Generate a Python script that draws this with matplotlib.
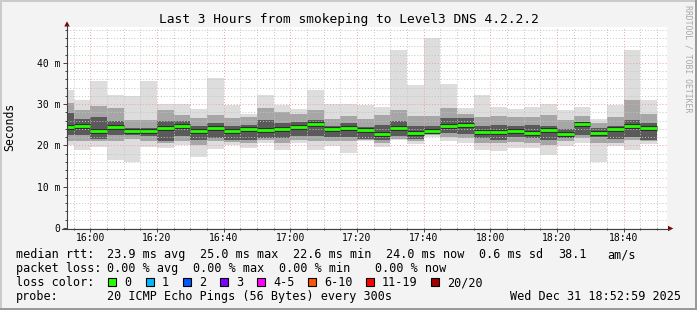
import numpy as np
import pandas as pd
import matplotlib
matplotlib.use('Agg')
import matplotlib.pyplot as plt
import matplotlib.dates as mdates
from matplotlib.patches import Rectangle, Polygon

W, H = 697, 310
MONO = 'DejaVu Sans Mono'

# 5 minute rounds, 20 pings each (values in ms)
bar_start = pd.date_range('2025-12-31 15:50', periods=36, freq='5min')
rtt_min = [20.2, 18.8, 19.6, 16.5, 16.0, 19.6, 19.4, 20.2, 17.1, 19.1,
           20.2, 19.4, 20.6, 19.0, 20.7, 19.0, 19.9, 18.1, 21.0, 19.6,
           21.2, 20.3, 22.0, 21.0, 20.7, 19.0, 18.7, 19.4, 19.4, 17.6,
           19.9, 20.7, 15.9, 19.9, 19.0, 20.4]
rtt_p10 = [21.0, 21.0, 21.0, 21.0, 21.5, 21.0, 20.5, 21.0, 20.2, 21.0,
           20.8, 20.6, 21.2, 20.6, 21.4, 21.0, 21.0, 21.0, 21.4, 20.6,
           21.6, 21.0, 22.4, 22.0, 21.8, 20.6, 20.6, 20.8, 20.6, 20.2,
           21.0, 21.8, 20.6, 20.6, 21.2, 21.0]
rtt_p25 = [22.6, 22.6, 21.6, 22.6, 22.6, 22.2, 21.0, 22.2, 21.4, 21.8,
           21.4, 21.4, 21.8, 21.8, 22.2, 22.2, 22.0, 22.0, 21.6, 21.4,
           22.2, 21.6, 22.8, 23.0, 22.8, 21.8, 21.4, 22.0, 21.8, 21.4,
           21.8, 22.6, 22.0, 21.6, 22.0, 21.4]
rtt_med = [24.4, 24.6, 23.4, 24.4, 23.4, 23.4, 24.1, 24.8, 23.6, 24.3,
           23.6, 24.0, 23.7, 24.0, 24.4, 25.1, 24.0, 24.3, 23.7, 22.7,
           24.3, 23.1, 23.6, 24.8, 25.0, 23.3, 23.3, 23.6, 23.1, 23.7,
           22.7, 25.1, 23.1, 24.0, 24.6, 24.1]
rtt_p75 = [27.8, 26.4, 27.0, 25.8, 24.2, 24.2, 25.8, 25.8, 24.8, 25.4,
           24.8, 25.0, 26.2, 25.4, 25.6, 26.2, 24.8, 25.4, 24.4, 25.0,
           25.8, 24.6, 24.6, 26.6, 26.6, 24.6, 25.0, 24.6, 25.0, 24.6,
           24.0, 25.6, 24.2, 24.6, 26.2, 25.4]
rtt_p90 = [30.3, 28.6, 29.5, 29.0, 26.2, 26.2, 28.6, 27.4, 26.6, 27.4,
           26.6, 27.0, 29.0, 28.0, 27.6, 28.5, 26.4, 27.2, 26.4, 27.4,
           28.6, 27.2, 27.0, 29.0, 27.6, 27.0, 27.2, 26.8, 26.8, 27.4,
           26.2, 27.0, 25.4, 27.0, 31.0, 27.6]
rtt_max = [33.5, 31.1, 35.7, 32.3, 31.9, 35.7, 30.1, 30.1, 28.8, 36.3,
           29.9, 27.7, 32.3, 29.9, 28.8, 33.5, 30.0, 30.0, 29.7, 29.4,
           43.2, 34.7, 46.0, 34.9, 29.1, 32.3, 29.3, 28.8, 29.3, 30.1,
           28.5, 29.3, 26.4, 29.9, 43.2, 31.1]

loss_labels = ['0', '1', '2', '3', '4-5', '6-10', '11-19', '20/20']
loss_colors = ['#26ff00', '#00b8ff', '#0059ff', '#7e00ff', '#ff00ff', '#ff5500', '#ff0000', '#a10000']
loss_box_x = [108, 146, 183, 220, 257, 308, 366, 431]

title = 'Last 3 Hours from smokeping to Level3 DNS 4.2.2.2'
rtt_line = [('median rtt:', 16), ('23.9 ms avg', 107), ('25.0 ms max', 200), ('22.6 ms min', 293),
            ('24.0 ms now', 386), ('0.6 ms sd', 479), ('38.1', 558), ('am/s', 607)]
loss_line = [('packet loss:', 16), ('0.00 % avg', 107), ('0.00 % max', 193),
             ('0.00 % min', 279), ('0.00 % now', 375)]
probe_text = '20 ICMP Echo Pings (56 Bytes) every 300s'
stamp = 'Wed Dec 31 18:52:59 2025'

fig = plt.figure(figsize=(W/100, H/100), dpi=100)
fig.patch.set_facecolor('#f3f3f3')

# plot canvas in pixel box: x 67..667, y 27..228
ax = fig.add_axes([67/W, (H-228)/H, 600/W, (228-27.3)/H])
ax.set_facecolor('white')

width = pd.Timedelta(minutes=5)
w_days = 5/1440
lo = np.array(rtt_min); hi = np.array(rtt_max)
ax.bar(bar_start, hi-lo, bottom=lo, width=w_days, align='edge', color='#dddddd', linewidth=0, zorder=1)
ax.bar(bar_start, np.array(rtt_p90)-np.array(rtt_p10), bottom=rtt_p10, width=w_days, align='edge',
       color='#a6a6a6', linewidth=0, zorder=1.1)
ax.bar(bar_start, np.array(rtt_p75)-np.array(rtt_p25), bottom=rtt_p25, width=w_days, align='edge',
       color='#5a5a5a', linewidth=0, zorder=1.2)
# dark edge under the median, then the loss coloured median itself
ax.hlines(rtt_med, bar_start, bar_start+width, colors='#303030', linewidth=3.6, zorder=2.9)
ax.hlines(rtt_med, bar_start, bar_start+width, colors=loss_colors[0], linewidth=2.0, zorder=3)

t0 = pd.Timestamp('2025-12-31 15:53')
ax.set_xlim(t0, t0+pd.Timedelta(hours=3))
ax.set_ylim(0, 48.6)

ax.set_yticks([0, 10, 20, 30, 40])
ax.set_yticklabels(['0', '10 m', '20 m', '30 m', '40 m'])
ax.set_yticks(np.arange(2, 49, 2), minor=True)
ax.xaxis.set_major_locator(mdates.MinuteLocator(byminute=[0, 20, 40]))
ax.xaxis.set_minor_locator(mdates.MinuteLocator(byminute=range(0, 60, 5)))
ax.xaxis.set_major_formatter(mdates.DateFormatter('%H:%M'))

ax.set_axisbelow(False)
ax.grid(which='minor', color='#c4c4c4', linestyle=(0, (1, 2)), linewidth=0.7)
ax.grid(which='major', color='#f0a0a0', linestyle=(0, (1, 2)), linewidth=0.7)
for s in ax.spines.values():
    s.set_visible(False)
ax.tick_params(which='major', direction='out', length=2.8, width=0.7, color='#404040',
               labelsize=7, pad=2)
ax.tick_params(axis='x', which='major', pad=1)
ax.tick_params(which='minor', direction='out', length=1.4, width=0.7, color='#404040')
for lab in ax.get_xticklabels() + ax.get_yticklabels():
    lab.set_family(MONO)

# overlay in pixel coordinates for frame, axes, arrows and legend
ov = fig.add_axes([0, 0, 1, 1], zorder=5)
ov.set_xlim(0, W); ov.set_ylim(H, 0)
ov.axis('off')
ov.patch.set_alpha(0)

ov.add_patch(Rectangle((0, 0), W, 2, color='#cbcbcb', lw=0))
ov.add_patch(Rectangle((0, 0), 2, H, color='#cbcbcb', lw=0))
ov.add_patch(Rectangle((W-2, 0), 2, H, color='#999999', lw=0))
ov.add_patch(Rectangle((0, H-2), W, 2, color='#999999', lw=0))

ov.plot([67, 67], [228.5, 25], color='#404040', lw=0.8)
ov.plot([62, 669], [228.5, 228.5], color='#404040', lw=0.8)
ov.add_patch(Polygon([(64.3, 26.5), (69.7, 26.5), (67, 21.3)], color='#7f0000', lw=0))
ov.add_patch(Polygon([(668, 225.8), (668, 231.2), (673.3, 228.5)], color='#7f0000', lw=0))

ov.text(W/2, 19, title, family=MONO, fontsize=9.3, ha='center', va='center')
ov.text(10, 127, 'Seconds', family=MONO, fontsize=8.3, rotation=90, ha='center', va='center')
ov.text(688, 5, 'RRDTOOL / TOBI OETIKER', family=MONO, fontsize=5.9, rotation=270,
        ha='center', va='top', color='#a8a8a8')

fs = 8.5
for txt, x in rtt_line:
    ov.text(x, 254.5, txt, family=MONO, fontsize=fs, va='center')
for txt, x in loss_line:
    ov.text(x, 268.5, txt, family=MONO, fontsize=fs, va='center')
ov.text(16, 282.5, 'loss color:', family=MONO, fontsize=fs, va='center')
for lab, col, x in zip(loss_labels, loss_colors, loss_box_x):
    ov.add_patch(Rectangle((x, 278.3), 7.5, 7.5, facecolor=col, edgecolor='black', lw=0.8))
    ov.text(x+16, 282.5, lab, family=MONO, fontsize=fs, va='center')
ov.text(16, 296.5, 'probe:', family=MONO, fontsize=fs, va='center')
ov.text(107, 296.5, probe_text, family=MONO, fontsize=fs, va='center')
ov.text(681, 296.5, stamp, family=MONO, fontsize=fs, va='center', ha='right')

fig.savefig('out.png', dpi=100, facecolor=fig.get_facecolor())
